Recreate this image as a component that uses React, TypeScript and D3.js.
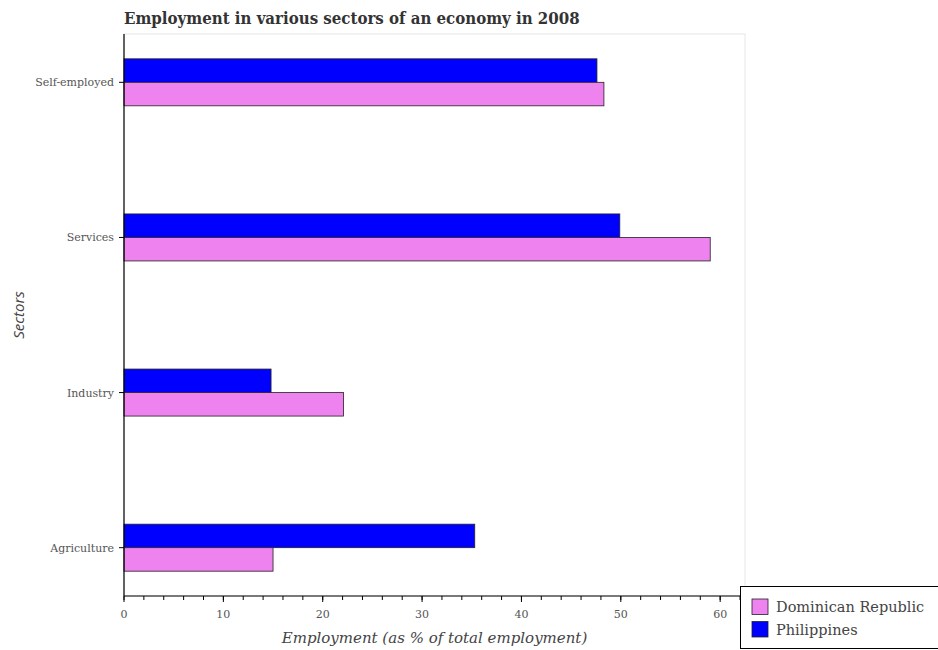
import React from "react";
import * as d3 from "d3";

const sectors = ["Agriculture", "Industry", "Services", "Self-employed"];
const dominicanRepublic = [15.0, 22.1, 59.0, 48.3];
const philippines = [35.3, 14.8, 49.9, 47.6];
const seriesNames = ["Dominican Republic", "Philippines"];
const seriesColors = ["#ee82ee", "#0000ff"];
const xTicks = [0, 10, 20, 30, 40, 50, 60];

export default function App() {
  const W = 938, H = 650;
  const left = 124, right = 745, top = 34, bottom = 596;
  const x = d3.scaleLinear().domain([0, 62.5]).range([left, right]);
  const y = d3
    .scaleBand<string>()
    .domain([...sectors].reverse())
    .range([top, bottom])
    .paddingInner(0.697)
    .paddingOuter(0.16);
  const bw = y.bandwidth();
  const half = bw / 2;
  const minor = d3.range(0, 62.5, 2);
  const font = "DejaVu Serif";
  return (
    <svg width={W} height={H} style={{ position: "absolute", left: 0, top: 0 }}>
      <rect x={0} y={0} width={W} height={H} fill="#fff" />
      <text x={left} y={24} fontFamily="DejaVu Serif Condensed" fontWeight="bold" fontSize={16.7} fill="#333">
        Employment in various sectors of an economy in 2008
      </text>
      <rect x={left} y={top} width={right - left} height={bottom - top} fill="none" stroke="#e6e6e6" strokeWidth={1} />
      {sectors.map((s, i) => {
        const y0 = y(s)!;
        return (
          <g key={s}>
            <rect x={x(0)} y={y0} width={x(philippines[i]) - x(0)} height={half} fill={seriesColors[1]} stroke="#222" strokeWidth={0.8} />
            <rect x={x(0)} y={y0 + half} width={x(dominicanRepublic[i]) - x(0)} height={half} fill={seriesColors[0]} stroke="#222" strokeWidth={0.8} />
          </g>
        );
      })}
      <line x1={left} x2={left} y1={top} y2={bottom} stroke="#000" strokeWidth={1.2} />
      <line x1={left} x2={right} y1={bottom} y2={bottom} stroke="#000" strokeWidth={1.2} />
      {minor.map((v) => (
        <line key={"m" + v} x1={x(v)} x2={x(v)} y1={bottom} y2={bottom + 4} stroke="#000" strokeWidth={1} />
      ))}
      {xTicks.map((v) => (
        <g key={v}>
          <line x1={x(v)} x2={x(v)} y1={bottom} y2={bottom + 6} stroke="#000" strokeWidth={1} />
          <text x={x(v)} y={618} textAnchor="middle" fontFamily={font} fontSize={11} fill="#555">
            {v}
          </text>
        </g>
      ))}
      {sectors.map((s) => {
        const c = y(s)! + half;
        return (
          <g key={"t" + s}>
            <line x1={left - 5} x2={left} y1={c} y2={c} stroke="#000" strokeWidth={1} />
            <text x={left - 10} y={c + 4} textAnchor="end" fontFamily={font} fontSize={11} fill="#555">
              {s}
            </text>
          </g>
        );
      })}
      <text x={(left + right) / 2} y={643} textAnchor="middle" fontFamily={font} fontStyle="italic" fontSize={15} fill="#444">
        Employment (as % of total employment)
      </text>
      <text transform={`translate(24,${(top + bottom) / 2}) rotate(-90)`} textAnchor="middle" fontFamily="Open Sans" fontStyle="italic" fontSize={15} fill="#444">
        Sectors
      </text>
      <rect x={740.5} y={586.5} width={210} height={62} fill="#fff" stroke="#000" strokeWidth={1} />
      {seriesNames.map((n, i) => (
        <g key={n}>
          <rect x={752} y={599 + i * 22.5} width={16} height={15.5} fill={seriesColors[i]} stroke="#222" strokeWidth={0.8} />
          <text x={776} y={612 + i * 22.5} fontFamily={font} fontSize={14.5} fill="#444">
            {n}
          </text>
        </g>
      ))}
    </svg>
  );
}
